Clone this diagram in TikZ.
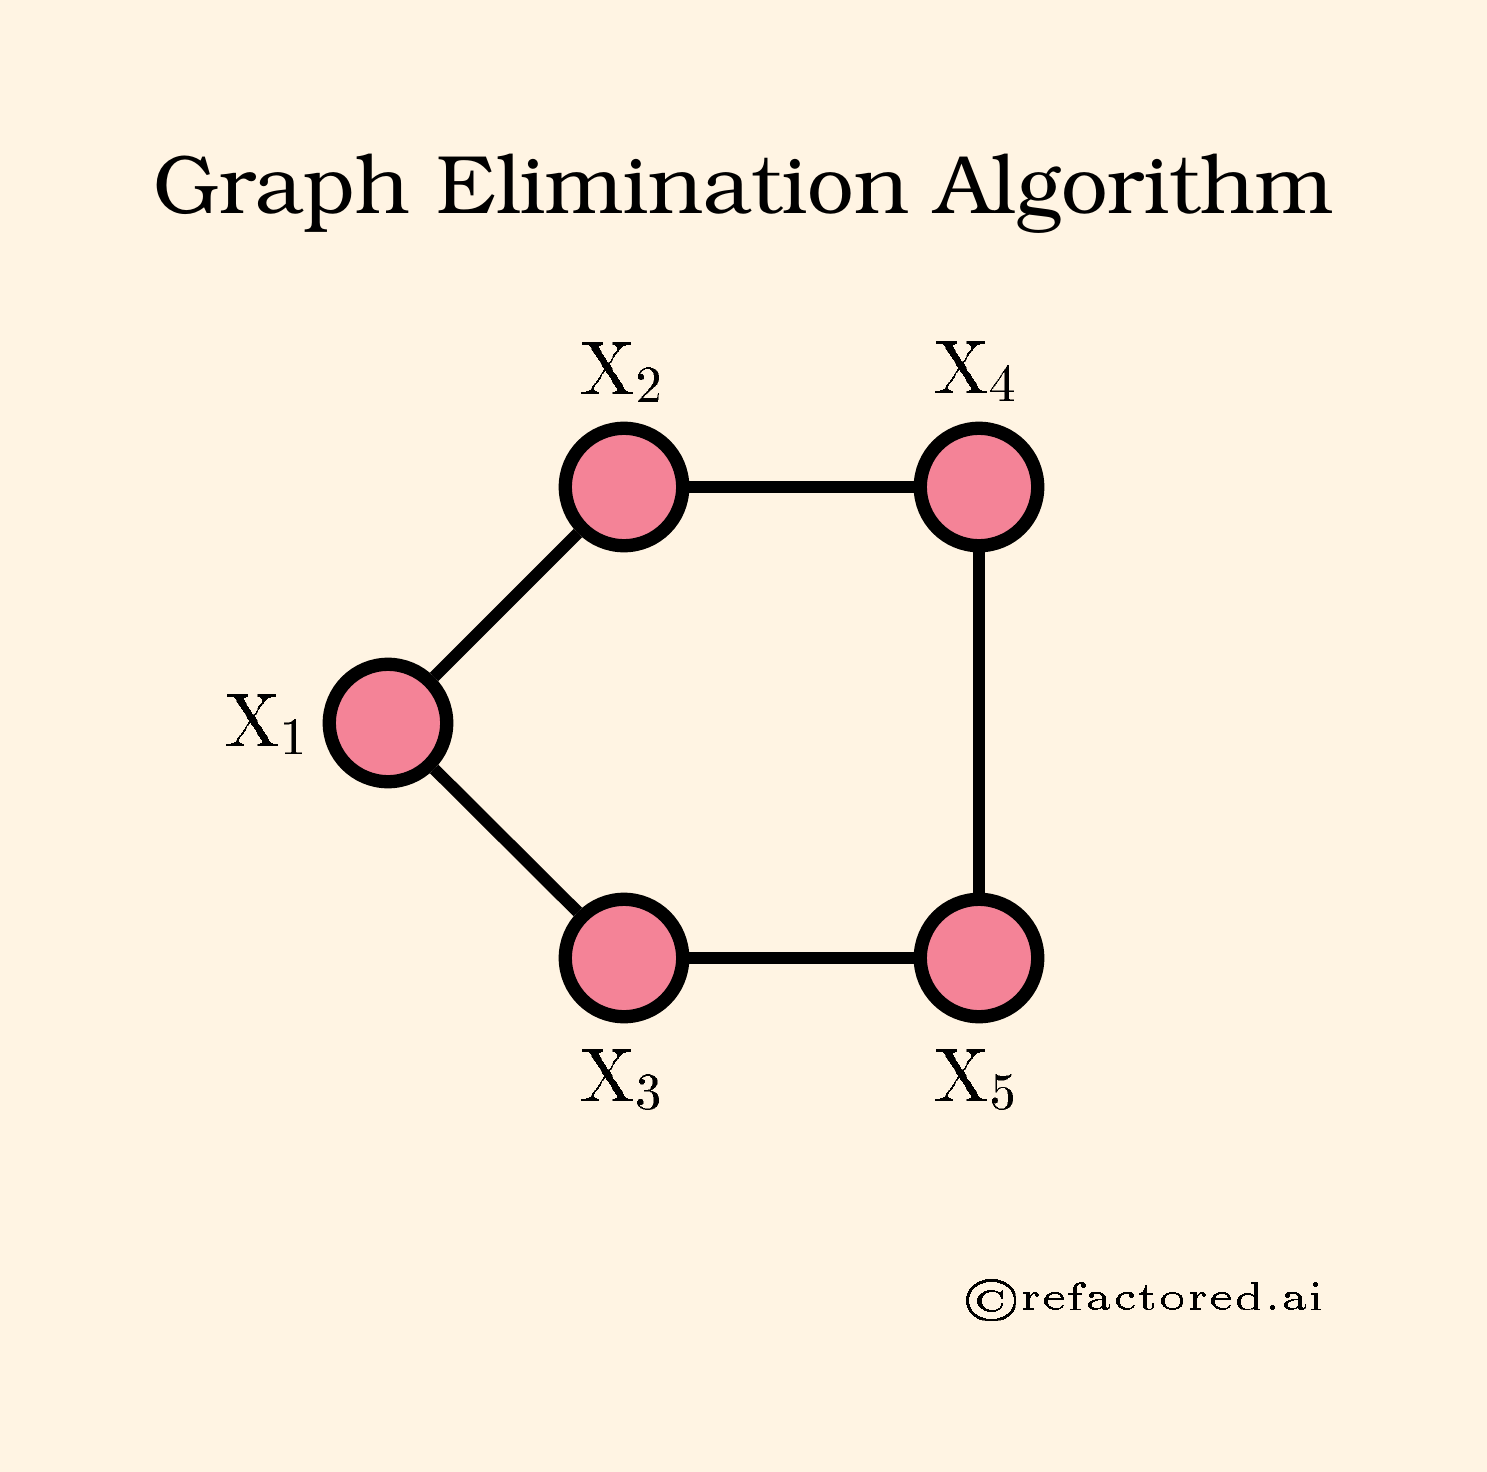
\documentclass[tikz,border=0pt]{standalone}
\usepackage[T1]{fontenc}
\usepackage{graphicx}
\definecolor{bgcream}{RGB}{255,244,227}
\definecolor{nodepink}{RGB}{244,131,151}
\newcommand{\vlabel}[1]{\scalebox{7.6}{X}\raisebox{-8bp}{\scalebox{5.32}{#1}}}
\begin{document}
\begin{tikzpicture}[x=1bp,y=-1bp,
  vnode/.style={circle,draw=black,fill=nodepink,line width=13.3bp,minimum size=117.4bp,inner sep=0pt},
  edge/.style={draw=black,line width=12bp},
  lbl/.style={inner sep=0pt,outer sep=0pt,anchor=base west}]
\fill[bgcream] (0,0) rectangle (1487,1472);
\useasboundingbox (0,0) rectangle (1487,1472);
\node[lbl] (title) at (153,213) {\resizebox{1180bp}{!}{\fontfamily{pbk}\selectfont Graph Elimination Algorithm}};
\node[vnode] (x1) at (388,723) {};
\node[vnode] (x2) at (624,487) {};
\node[vnode] (x3) at (624,958) {};
\node[vnode] (x4) at (979,487) {};
\node[vnode] (x5) at (979,958) {};
\draw[edge] (x1) -- (x2);
\draw[edge] (x1) -- (x3);
\draw[edge] (x2) -- (x4);
\draw[edge] (x3) -- (x5);
\draw[edge] (x4) -- (x5);
\node[lbl] (l1) at (224,745) {\vlabel{1}};
\node[lbl] (l2) at (579,393) {\vlabel{2}};
\node[lbl] (l3) at (579,1100) {\vlabel{3}};
\node[lbl] (l4) at (933,392) {\vlabel{4}};
\node[lbl] (l5) at (933,1100) {\vlabel{5}};
\node[lbl] (copy) at (962,1309) {\resizebox{363bp}{!}{\fontsize{5}{6}\selectfont\textcopyright refactored.ai}};
\end{tikzpicture}
\end{document}
